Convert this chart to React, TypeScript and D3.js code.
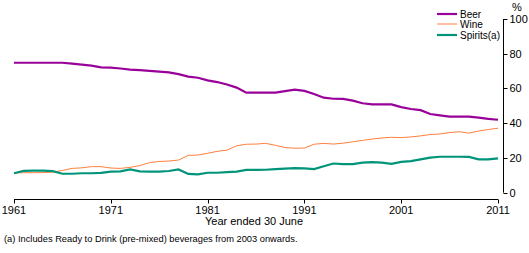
import React, { useEffect, useRef } from 'react';
import * as d3 from 'd3';

const years = d3.range(1961, 2012);

const beer = [
  74.8, 74.8, 74.8, 74.8, 74.8, 74.8, 74.3, 73.7, 73.2, 72.2,
  72.0, 71.5, 70.9, 70.6, 70.1, 69.7, 69.3, 68.3, 66.8, 66.2,
  64.7, 63.7, 62.3, 60.5, 57.6, 57.6, 57.6, 57.6, 58.5, 59.3,
  58.6, 56.8, 54.7, 54.1, 54.0, 53.0, 51.5, 50.9, 50.9, 50.8,
  49.3, 48.2, 47.5, 45.3, 44.5, 43.8, 43.8, 43.8, 43.2, 42.5,
  42.0,
];

const wine = [
  11.5, 11.5, 11.5, 11.6, 11.8, 12.8, 14.0, 14.3, 15.0, 15.0,
  14.2, 14.0, 14.6, 15.6, 17.3, 18.0, 18.2, 18.8, 21.5, 21.7,
  22.7, 23.8, 24.5, 27.0, 27.9, 28.0, 28.4, 27.3, 26.0, 25.6,
  25.7, 27.9, 28.4, 28.0, 28.5, 29.3, 30.1, 30.9, 31.5, 31.9,
  31.7, 32.1, 32.7, 33.5, 33.8, 34.6, 35.1, 34.3, 35.5, 36.4,
  37.1,
];

const spirits = [
  11.2, 12.6, 12.7, 12.7, 12.4, 10.9, 10.9, 11.2, 11.2, 11.4,
  12.1, 12.3, 13.4, 12.3, 12.1, 12.1, 12.5, 13.4, 10.8, 10.6,
  11.5, 11.5, 11.9, 12.1, 13.1, 13.1, 13.2, 13.6, 13.9, 14.2,
  14.0, 13.6, 15.2, 16.8, 16.5, 16.5, 17.3, 17.6, 17.3, 16.6,
  17.7, 18.2, 19.2, 20.2, 20.7, 20.7, 20.7, 20.6, 19.2, 19.2,
  19.8,
];

const xTicks = [1961, 1971, 1981, 1991, 2001, 2011];
const yTicks = [0, 20, 40, 60, 80, 100];

const series = [
  { name: 'Beer', values: beer, color: '#990099', width: 2.2 },
  { name: 'Wine', values: wine, color: '#FF7F3F', width: 1 },
  { name: 'Spirits(a)', values: spirits, color: '#00957A', width: 2.2 },
];

const font = 'Tahoma, "Liberation Sans", Arial, sans-serif';

export default function App() {
  const svgRef = useRef<SVGSVGElement>(null);

  useEffect(() => {
    document.body.style.margin = '0';
    const width = 529;
    const height = 253;
    const svg = d3.select(svgRef.current).attr('width', width).attr('height', height);
    svg.selectAll('*').remove();

    const x = d3.scaleLinear().domain([1961, 2011]).range([14, 498]);
    const y = d3.scaleLinear().domain([0, 100]).range([192.7, 19]);

    // x axis
    const gx = svg.append('g').attr('transform', 'translate(0,199.5)');
    gx.append('line').attr('x1', 14).attr('x2', 498).attr('stroke', '#000');
    gx.selectAll('.tick')
      .data(xTicks)
      .join('line')
      .attr('x1', (d) => Math.round(x(d)) + 0.5)
      .attr('x2', (d) => Math.round(x(d)) + 0.5)
      .attr('y1', 0)
      .attr('y2', 4)
      .attr('stroke', '#000');
    gx.selectAll('text')
      .data(xTicks)
      .join('text')
      .attr('x', (d) => x(d))
      .attr('y', 14)
      .attr('text-anchor', 'middle')
      .attr('font-family', font)
      .attr('font-size', 11)
      .text((d) => d);

    // right y axis
    const gy = svg.append('g').attr('transform', 'translate(503.5,0)');
    gy.append('line').attr('y1', y(100)).attr('y2', y(0)).attr('stroke', '#000');
    gy.selectAll('.tick')
      .data(yTicks)
      .join('line')
      .attr('x1', 0)
      .attr('x2', 4)
      .attr('y1', (d) => Math.round(y(d)) + 0.5)
      .attr('y2', (d) => Math.round(y(d)) + 0.5)
      .attr('stroke', '#000');
    gy.selectAll('text')
      .data(yTicks)
      .join('text')
      .attr('x', 6)
      .attr('y', (d) => y(d) + 4)
      .attr('font-family', font)
      .attr('font-size', 11)
      .text((d) => d);

    svg.append('text')
      .attr('x', 512)
      .attr('y', 11)
      .attr('font-family', font)
      .attr('font-size', 11)
      .text('%');

    // lines
    const line = d3
      .line<number>()
      .x((d, i) => x(years[i]))
      .y((d) => y(d));

    svg.selectAll('.series')
      .data(series)
      .join('path')
      .attr('d', (s) => line(s.values))
      .attr('fill', 'none')
      .attr('stroke', (s) => s.color)
      .attr('stroke-width', (s) => s.width);

    // legend
    const lg = svg.selectAll('.legend').data(series).join('g')
      .attr('transform', (s, i) => `translate(437,${[14, 24, 35][i]})`);
    lg.append('line')
      .attr('x1', 0)
      .attr('x2', 20)
      .attr('stroke', (s) => s.color)
      .attr('stroke-width', (s) => s.width);
    lg.append('text')
      .attr('x', 23)
      .attr('y', 4)
      .attr('font-family', font)
      .attr('font-size', 10)
      .text((s) => s.name);

    svg.append('text')
      .attr('x', 254)
      .attr('y', 225)
      .attr('text-anchor', 'middle')
      .attr('font-family', font)
      .attr('font-size', 11)
      .text('Year ended 30 June');

    svg.append('text')
      .attr('x', 4)
      .attr('y', 242)
      .attr('font-family', font)
      .attr('font-size', 9.3)
      .text('(a) Includes Ready to Drink (pre-mixed) beverages from 2003 onwards.');
  }, []);

  return <svg ref={svgRef} style={{ display: 'block' }} />;
}
